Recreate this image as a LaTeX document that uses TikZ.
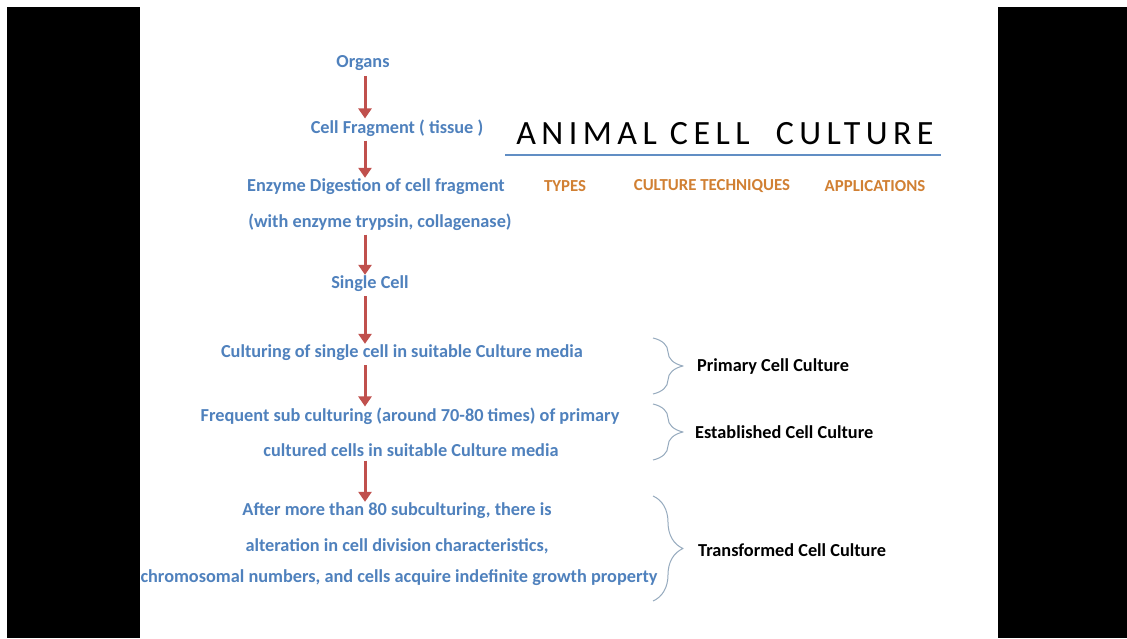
\documentclass[tikz,border=0pt]{standalone}
\usepackage{fontspec}
\setmainfont{Carlito}
\usetikzlibrary{decorations.pathreplacing,arrows.meta}
\definecolor{stepblue}{RGB}{79,129,189}
\definecolor{arrred}{RGB}{192,80,77}
\definecolor{headorange}{RGB}{209,128,51}
\definecolor{bracegray}{RGB}{150,170,190}
\tikzset{
  steptxt/.style={text=stepblue,font=\fontsize{18.3}{20}\selectfont\bfseries,inner sep=0pt},
  headtxt/.style={text=headorange,font=\fontsize{16.8}{18}\selectfont\bfseries,inner sep=0pt},
  typetxt/.style={text=black,font=\fontsize{18.3}{20}\selectfont\bfseries,inner sep=0pt,anchor=west},
  flow/.style={arrred,line width=3pt,-{Triangle[width=13pt,length=10pt]},shorten >=1pt},
  culbrace/.style={bracegray,line width=1pt,decorate,decoration={brace,amplitude=30pt,aspect=0.5}}
}
\begin{document}
\begin{tikzpicture}[x=1pt,y=-1pt,line join=round]
	\useasboundingbox (0,0) rectangle (1127,638);
	\fill[white] (0,0) rectangle (1127,638);
	\fill[black] (7,7) rectangle (140,638);
	\fill[black] (998,7) rectangle (1127,638);
	% title
	\node[inner sep=0pt,font=\fontsize{34}{38}\selectfont\addfontfeature{LetterSpace=16}] (title) at (725,134) {ANIMAL CELL\ \ CULTURE};
	\draw[stepblue!90!white,line width=2.5pt] (505,155)--(941,155);
	\node[headtxt] (types) at (565,186) {TYPES};
	\node[headtxt] (tech) at (712,186) {CULTURE TECHNIQUES};
	\node[headtxt] (appl) at (875,186) {APPLICATIONS};
	% steps
	\node[steptxt] (organs) at (363,63) {Organs};
	\node[steptxt] (frag) at (397,128) {Cell Fragment ( tissue )};
	\node[steptxt] (enz) at (376,187) {Enzyme Digestion of cell fragment};
	\node[steptxt] (enzb) at (380,222) {(with enzyme trypsin, collagenase)};
	\node[steptxt] (single) at (370,284) {Single Cell};
	\node[steptxt] (primary) at (402,353) {Culturing of single cell in suitable Culture media};
	\node[steptxt] (estab) at (410,416) {Frequent sub culturing (around 70-80 times) of primary};
	\node[steptxt] (estabb) at (411,450) {cultured cells in suitable Culture media};
	\node[steptxt] (trans) at (397,511) {After more than 80 subculturing, there is};
	\node[steptxt] (transb) at (397,546) {alteration in cell division characteristics,};
	\node[steptxt] (transc) at (399,578) {chromosomal numbers, and cells acquire indefinite growth property};
	\coordinate (ax) at (365,0);
	\draw[flow] (organs.south -| ax) ++(0,5) -- (frag.north -| ax);
	\draw[flow] (frag.south -| ax) ++(0,4) -- (enz.north -| ax);
	\draw[flow] (enzb.south -| ax) ++(0,4) -- (single.north -| ax);
	\draw[flow] (single.south -| ax) ++(0,4) -- (primary.north -| ax);
	\draw[flow] (primary.south -| ax) ++(0,4) -- (estab.north -| ax);
	\draw[flow] (estabb.south -| ax) ++(0,4) -- (trans.north -| ax);
	% braces
	\draw[culbrace] (653,338) -- (653,394) coordinate[midway] (b1);
	\draw[culbrace] (653,404) -- (653,460) coordinate[midway] (b2);
	\draw[culbrace] (653,496) -- (653,601) coordinate[midway] (b3);
	\node[typetxt] (tprim) at (697,367) {Primary Cell Culture};
	\node[typetxt] (testab) at (695,432) {Established Cell Culture};
	\node[typetxt] (ttrans) at (698,550) {Transformed Cell Culture};
\end{tikzpicture}
\end{document}
